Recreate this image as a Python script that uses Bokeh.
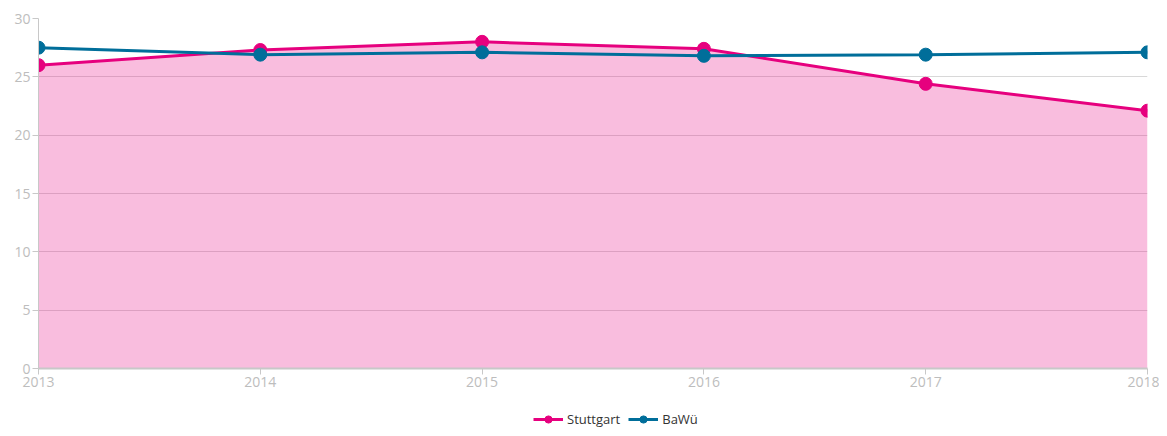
from bokeh.plotting import figure
from bokeh.layouts import column
from bokeh.models import Range1d, FixedTicker, Legend, LegendItem, ColumnDataSource
from bokeh.embed import file_html
from bokeh.resources import INLINE

years = [2013, 2014, 2015, 2016, 2017, 2018]
stuttgart = [26.0, 27.3, 28.0, 27.4, 24.4, 22.1]
bawue = [27.5, 26.9, 27.1, 26.8, 26.9, 27.1]
y_ticks = [0, 5, 10, 15, 20, 25, 30]
series_names = ["Stuttgart", "BaWü"]

PINK = "#E6007E"
BLUE = "#006E9A"
FONT = "Open Sans"

src = ColumnDataSource(dict(x=years, s=stuttgart, b=bawue, z=[0] * len(years)))

p = figure(width=1159, height=404, output_backend="svg", toolbar_location=None,
           x_range=Range1d(2013, 2018), y_range=Range1d(0, 30),
           min_border_left=38, min_border_right=12, min_border_top=18, min_border_bottom=36)
p.outline_line_color = None

p.varea(x="x", y1="z", y2="s", source=src, fill_color=PINK, fill_alpha=0.26)

p.line(x="x", y="s", source=src, line_color=PINK, line_width=3)
p.scatter(x="x", y="s", source=src, size=13, fill_color=PINK, line_color=PINK)
p.line(x="x", y="b", source=src, line_color=BLUE, line_width=3)
p.scatter(x="x", y="b", source=src, size=13, fill_color=BLUE, line_color=BLUE)

p.xgrid.grid_line_color = None
p.ygrid.grid_line_color = "#d8d8d8"
p.ygrid.grid_line_width = 1
p.ygrid.ticker = FixedTicker(ticks=y_ticks)

p.xaxis.ticker = FixedTicker(ticks=years)
p.yaxis.ticker = FixedTicker(ticks=y_ticks)
for ax in (p.xaxis[0], p.yaxis[0]):
    ax.axis_line_color = "#c8c8c8"
    ax.axis_line_width = 2
    ax.major_tick_line_color = "#c8c8c8"
    ax.major_tick_in = 0
    ax.major_tick_out = 6
    ax.minor_tick_line_color = None
    ax.major_label_text_color = "#bdbdbd"
    ax.major_label_text_font = FONT
    ax.major_label_text_font_size = "14px"
    ax.major_label_standoff = 2
p.yaxis.axis_line_width = 1

# separate strip for the legend under the chart
p2 = figure(width=1159, height=30, output_backend="svg", toolbar_location=None,
            x_range=Range1d(0, 1), y_range=Range1d(0, 1),
            x_axis_location=None, y_axis_location=None,
            min_border_left=0, min_border_right=0, min_border_top=0, min_border_bottom=0)
p2.outline_line_color = None
p2.grid.grid_line_color = None
lsrc = ColumnDataSource(dict(x=[-10, -9], y=[-10, -10]))
k1 = p2.line(x="x", y="y", source=lsrc, line_color=PINK, line_width=3)
m1 = p2.scatter(x="x", y="y", source=lsrc, size=13, fill_color=PINK, line_color=PINK)
k2 = p2.line(x="x", y="y", source=lsrc, line_color=BLUE, line_width=3)
m2 = p2.scatter(x="x", y="y", source=lsrc, size=13, fill_color=BLUE, line_color=BLUE)

legend = Legend(items=[LegendItem(label=series_names[0], renderers=[k1, m1]),
                       LegendItem(label=series_names[1], renderers=[k2, m2])],
                orientation="horizontal", location=(495, 6),
                label_text_font=FONT, label_text_font_size="13px", label_text_color="#333333",
                border_line_color=None, background_fill_alpha=0,
                glyph_width=30, glyph_height=18, spacing=8, padding=0, margin=0, label_standoff=4,
                label_height=18)
p2.add_layout(legend, "center")

open("out.html", "w").write(file_html(column(p, p2, spacing=0), INLINE))
